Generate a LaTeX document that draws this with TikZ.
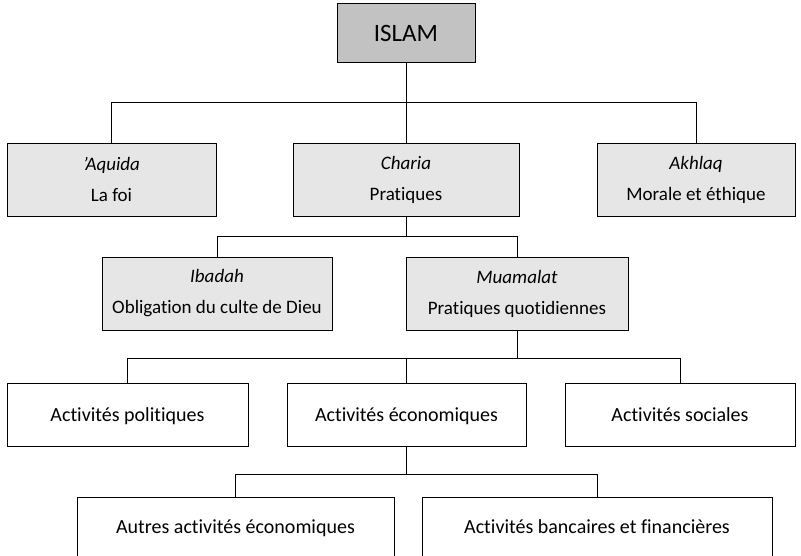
\documentclass[tikz,border=0pt]{standalone}
\usepackage{fontspec}
\setmainfont[Ligatures=NoCommon]{Carlito}
\usetikzlibrary{positioning,calc}

\definecolor{headgray}{HTML}{C2C2C2}
\definecolor{subgray}{HTML}{E6E6E7}

\tikzset{
  headbox/.style={draw, line width=1pt, fill=headgray, minimum width=138pt, minimum height=59pt,
    inner sep=0pt, font=\fontsize{25}{28}\selectfont},
  subbox/.style={draw, line width=0.9pt, fill=subgray, align=center, minimum height=73pt,
    inner sep=0pt, font=\fontsize{19}{31}\selectfont},
  leafbox/.style={draw, line width=0.9pt, fill=white, align=center, minimum height=63pt,
    inner sep=0pt, text depth=0pt, font=\fontsize{20}{30}\selectfont},
  link/.style={line width=0.9pt}
}

\begin{document}
\begin{tikzpicture}[x=1pt, y=-1pt]
    \useasboundingbox (0,0) rectangle (801,556);

    % Root
    \node[headbox] (islam) at (406,33.5) {ISLAM};

    % Second level
    \node[subbox, minimum width=209pt] (aquida) at (111.5,179.5) {\textit{’Aquida}\\La foi};
    \node[subbox, minimum width=226pt] (charia) at (406,179.5) {\textit{Charia}\\Pratiques};
    \node[subbox, minimum width=198pt] (akhlaq) at (696,179.5) {\textit{Akhlaq}\\Morale et éthique};

    % Third level
    \node[subbox, minimum width=230pt] (ibadah) at (217,293.5) {\textit{Ibadah}\\Obligation du culte de Dieu};
    \node[subbox, minimum width=222pt] (muamalat) at (517,293.5) {\textit{Muamalat}\\Pratiques quotidiennes};

    % Activities
    \node[leafbox, minimum width=241pt] (politiques) at (127.5,414.5) {Activités politiques};
    \node[leafbox, minimum width=239pt] (economiques) at (406.5,414.5) {Activités économiques};
    \node[leafbox, minimum width=230pt] (sociales) at (680,414.5) {Activités sociales};

    % Economic activities
    \node[leafbox, minimum width=317pt, minimum height=60pt] (autres) at (235.5,527) {Autres activités économiques};
    \node[leafbox, minimum width=350pt, minimum height=60pt] (bancaires) at (597,527) {Activités bancaires et financières};

    % Connectors
    \draw[link] (islam.south) -- ++(0,39) coordinate (j1);
    \draw[link] (aquida.north) |- (j1) -| (akhlaq.north);
    \draw[link] (j1) -- (charia.north);

    \draw[link] (charia.south) -- ++(0,20) coordinate (j2);
    \draw[link] (ibadah.north) |- (j2) -| (muamalat.north);

    \draw[link] (muamalat.south) -- ++(0,28) coordinate (j3);
    \draw[link] (politiques.north) |- (j3) -| (sociales.north);
    \draw[link] (economiques.north) -- (economiques.north |- j3);

    \draw[link] (economiques.south) -- ++(0,28) coordinate (j4);
    \draw[link] (autres.north) |- (j4) -| (bancaires.north);

\end{tikzpicture}
\end{document}
